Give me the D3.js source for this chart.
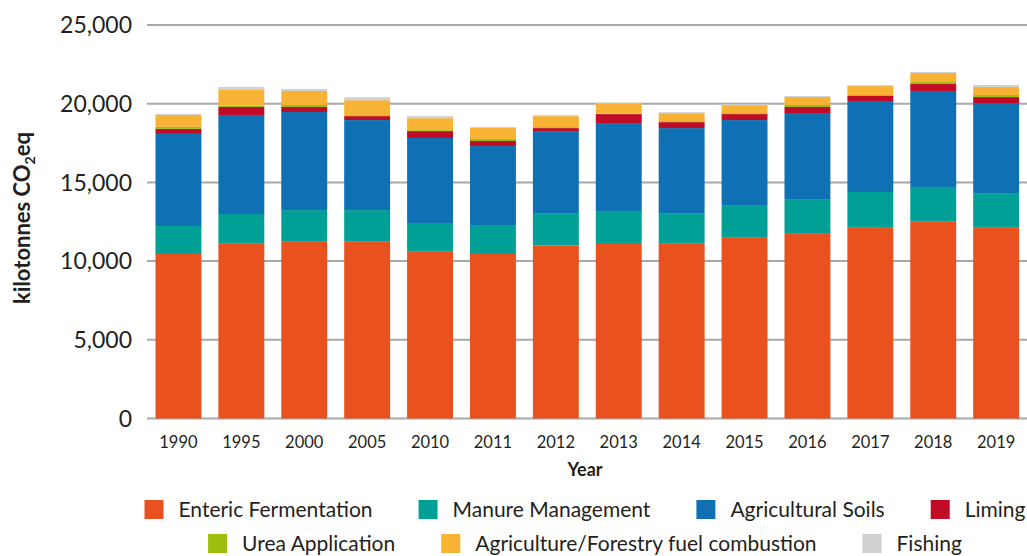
<!DOCTYPE html>
<html lang="en">
<head>
    <meta charset="UTF-8">
    <title>Agriculture emissions</title>
    <style>
        body { margin: 0; background: #fff; }
        .chart svg { display: block; font-family: Lato, "Open Sans", sans-serif; }
        .grid line { stroke: #a8a8a8; stroke-width: 2; }
        .tick-y { font-size: 23px; fill: #231f20; }
        .tick-x { font-size: 16.5px; fill: #231f20; }
        .axis-title { font-weight: bold; fill: #231f20; }
        .legend text { font-size: 21px; fill: #231f20; }
    </style>
</head>
<body>
    <div class="chart"></div>
    <script src="https://cdn.jsdelivr.net/npm/d3@7"></script>
    <script>
    "use strict";

    var years = ["1990", "1995", "2000", "2005", "2010", "2011", "2012",
                 "2013", "2014", "2015", "2016", "2017", "2018", "2019"];

    var categories = ["Enteric Fermentation", "Manure Management", "Agricultural Soils", "Liming",
                      "Urea Application", "Agriculture/Forestry fuel combustion", "Fishing"];

    var enteric = [10450, 11100, 11270, 11230, 10590, 10450, 11000, 11150, 11100, 11480, 11780, 12160, 12500, 12160];
    var manure  = [1780, 1890, 1970, 2010, 1830, 1840, 2050, 2030, 1950, 2080, 2160, 2230, 2210, 2160];
    var soils   = [5850, 6290, 6230, 5720, 5400, 5020, 5210, 5590, 5400, 5400, 5470, 5780, 6100, 5720];
    var liming  = [320, 510, 320, 250, 440, 320, 190, 570, 380, 380, 380, 320, 440, 380];
    var urea    = [130, 80, 130, 60, 60, 130, 60, 30, 60, 60, 130, 60, 130, 130];
    var fuel    = [760, 1000, 890, 950, 760, 700, 700, 640, 510, 510, 510, 570, 570, 510];
    var fishing = [60, 190, 130, 190, 130, 60, 60, 60, 60, 60, 60, 60, 60, 130];

    var yTicks = [0, 5000, 10000, 15000, 20000, 25000];

    var colors = ["#e9511f", "#00a096", "#0f71b4", "#c00c27", "#9bbf0c", "#f8b334", "#cfd0d2"];

    var series = [enteric, manure, soils, liming, urea, fuel, fishing];

    var width = 1027, height = 556;
    var plot = { left: 147, right: 1027.6, top: 25, bottom: 418.5 };

    var rows = years.map(function(y, i) {
        var r = { year: y };
        categories.forEach(function(c, j) { r[c] = series[j][i]; });
        return r;
    });

    var x = d3.scaleBand()
        .domain(years)
        .range([plot.left, plot.right])
        .paddingInner(0.27)
        .paddingOuter(0.135);

    var y = d3.scaleLinear()
        .domain([0, 25000])
        .range([plot.bottom, plot.top]);

    var color = d3.scaleOrdinal().domain(categories).range(colors);

    var svg = d3.select(".chart").append("svg")
        .attr("width", width)
        .attr("height", height);

    // gridlines
    svg.append("g").attr("class", "grid")
        .selectAll("line").data(yTicks).enter().append("line")
        .attr("x1", plot.left).attr("x2", width)
        .attr("y1", function(d) { return y(d); })
        .attr("y2", function(d) { return y(d); });

    // y tick labels
    svg.append("g").selectAll("text").data(yTicks).enter().append("text")
        .attr("class", "tick-y")
        .attr("x", 132)
        .attr("y", function(d) { return y(d); })
        .attr("dy", "0.36em")
        .attr("text-anchor", "end")
        .text(d3.format(","));

    // stacked bars
    var stacked = d3.stack().keys(categories)(rows);

    svg.append("g").selectAll("g.layer").data(stacked).enter().append("g")
        .attr("class", "layer")
        .attr("fill", function(d) { return color(d.key); })
        .selectAll("rect").data(function(d) { return d; }).enter().append("rect")
        .attr("x", function(d) { return x(d.data.year); })
        .attr("width", x.bandwidth())
        .attr("y", function(d) { return y(d[1]); })
        .attr("height", function(d) { return y(d[0]) - y(d[1]); });

    // x tick labels
    svg.append("g").selectAll("text").data(years).enter().append("text")
        .attr("class", "tick-x")
        .attr("x", function(d) { return x(d) + x.bandwidth() / 2; })
        .attr("y", 442)
        .attr("dy", "0.36em")
        .attr("text-anchor", "middle")
        .text(function(d) { return d; });

    svg.append("text")
        .attr("class", "axis-title")
        .attr("x", 585)
        .attr("y", 470)
        .attr("dy", "0.36em")
        .attr("text-anchor", "middle")
        .style("font-size", "18px")
        .text("Year");

    var yt = svg.append("text")
        .attr("class", "axis-title")
        .attr("transform", "translate(30,218) rotate(-90)")
        .attr("text-anchor", "middle")
        .style("font-size", "22px");
    yt.append("tspan").text("kilotonnes CO");
    yt.append("tspan").attr("dy", 5).style("font-size", "14px").text("2");
    yt.append("tspan").attr("dy", -5).text("eq");

    // legend in two rows
    var legendRows = [categories.slice(0, 4), categories.slice(4)];
    var legendY = [509.5, 543.5];
    var box = 19, gapText = 15, gapItem = 46;

    legendRows.forEach(function(items, ri) {
        var g = svg.append("g").attr("class", "legend");
        var entries = g.selectAll("g").data(items).enter().append("g");
        entries.append("rect")
            .attr("width", box).attr("height", box)
            .attr("y", -box / 2)
            .attr("fill", function(d) { return color(d); });
        entries.append("text")
            .attr("x", box + gapText)
            .attr("dy", "0.36em")
            .text(function(d) { return d; });

        var pos = 0, offsets = [];
        entries.each(function() {
            offsets.push(pos);
            var tw = d3.select(this).select("text").node().getComputedTextLength();
            pos += box + gapText + tw + gapItem;
        });
        var total = pos - gapItem;
        var start = 585 - total / 2;
        entries.attr("transform", function(d, i) {
            return "translate(" + (start + offsets[i]) + "," + legendY[ri] + ")";
        });
    });
    </script>
</body>
</html>
